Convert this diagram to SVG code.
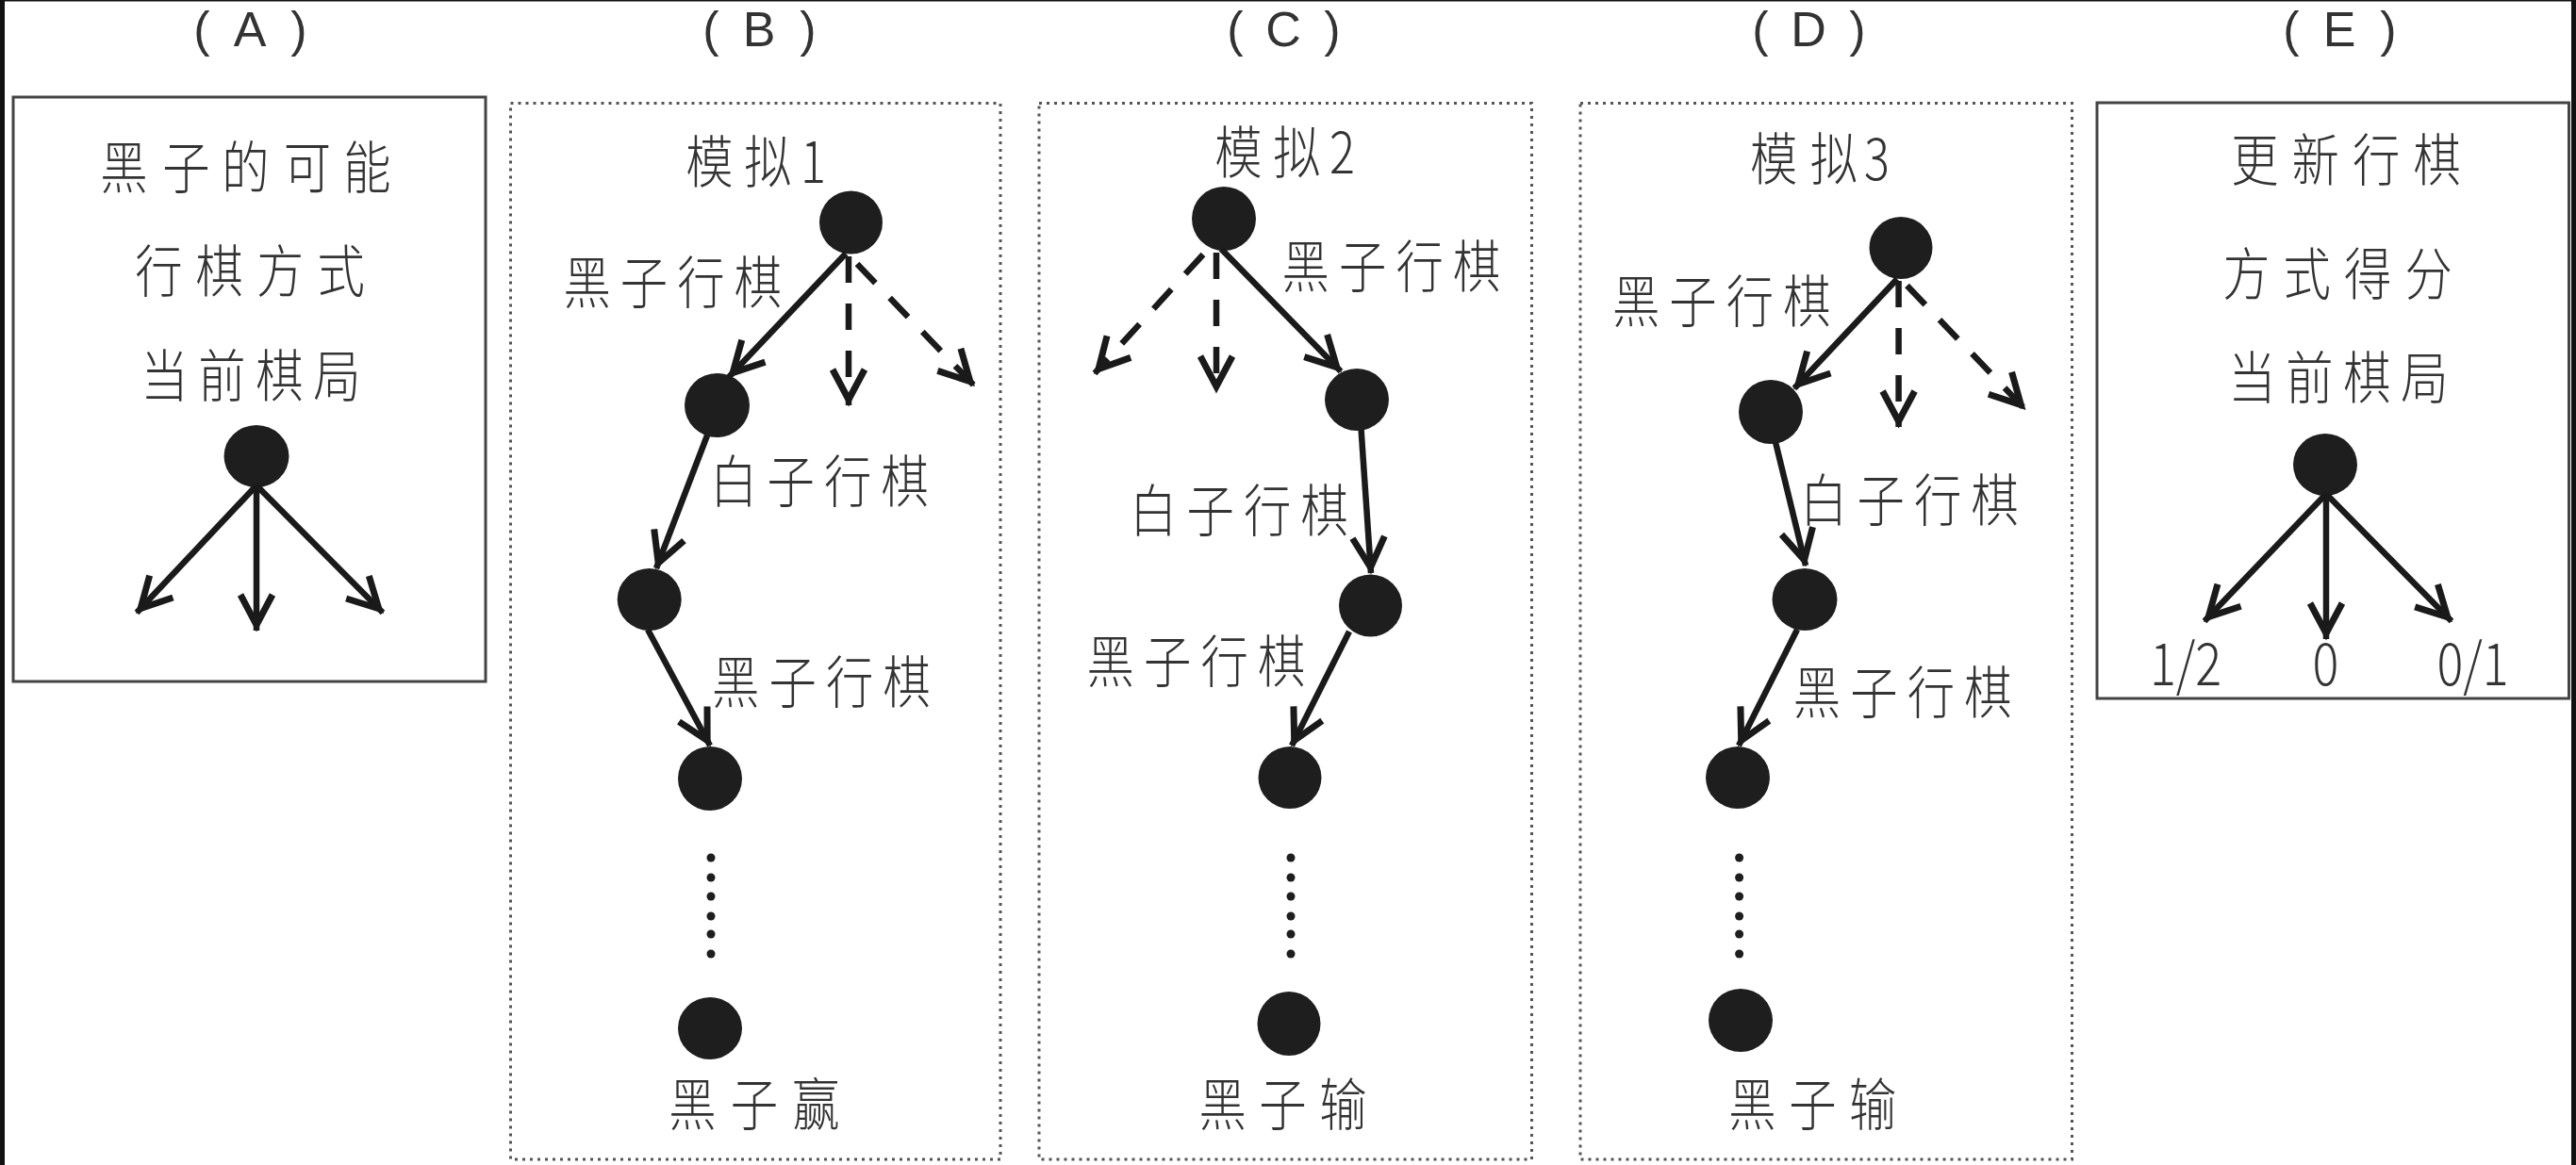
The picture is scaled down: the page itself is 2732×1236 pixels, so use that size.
<svg xmlns="http://www.w3.org/2000/svg" width="2732" height="1236" viewBox="0 0 2732 1236">
<style>
.lbl{font-family:"Noto Sans CJK SC","Noto Sans",sans-serif;font-size:60px;fill:#333;text-anchor:middle;font-weight:300}
.num{font-family:"Noto Sans CJK SC","Noto Sans",sans-serif;font-size:62px;fill:#333;text-anchor:middle;font-weight:300}
.ttl{font-family:"Liberation Sans",Arial,sans-serif;font-size:52px;fill:#333;text-anchor:middle}
.solid{fill:none;stroke:#1a1a1a;stroke-width:6.5;marker-end:url(#ah)}
.dash{fill:none;stroke:#1a1a1a;stroke-width:6.5;stroke-dasharray:28 22;marker-end:url(#ah)}
.node{fill:#1e1e1e}
.dot{fill:#1e1e1e}
.frame{fill:none;stroke:#444;stroke-width:3}
.dotted{fill:none;stroke:#555;stroke-width:3;stroke-dasharray:3 5}
</style>
<defs>
<marker id="ah" markerUnits="userSpaceOnUse" viewBox="-44 -22 50 44" refX="0" refY="0" markerWidth="50" markerHeight="44" orient="auto" overflow="visible">
<path d="M-38,-17 L-6,0 L-38,17" fill="none" stroke="#1a1a1a" stroke-width="7" stroke-dasharray="none" stroke-linejoin="miter"/>
</marker>
</defs>
<rect x="0" y="0" width="2732" height="1236" fill="#fff"/>
<rect x="0" y="0" width="5" height="1236" fill="#111"/>
<rect x="2727" y="0" width="5" height="1236" fill="#111"/>
<rect x="0" y="0" width="2732" height="1.5" fill="#111"/>

<g id="titles">
<text class="ttl" x="214 265 317" y="49">(A)</text>
<text class="ttl" x="754 805 857" y="49">(B)</text>
<text class="ttl" x="1310 1361 1413" y="49">(C)</text>
<text class="ttl" x="1867 1918 1970" y="49">(D)</text>
<text class="ttl" x="2430 2481 2533" y="49">(E)</text>
</g>

<g id="panelA">
<rect class="frame" x="14" y="103" width="501" height="620"/>
<text class="lbl" transform="translate(260.5,200) scale(0.84,1)" x="-153.6 -75 0 78 153.6" y="0">黑子的可能</text>
<text class="lbl" transform="translate(265,310) scale(0.84,1)" x="-115 -38.4 38.4 115" y="0">行棋方式</text>
<text class="lbl" transform="translate(266,421) scale(0.84,1)" x="-109 -36.3 36.3 109" y="0">当前棋局</text>
</g>
<g id="nodeA"><ellipse class="node" cx="272" cy="484" rx="34.5" ry="33"/></g>

<g id="panelB">
<rect class="dotted" x="541.5" y="109.5" width="519.5" height="1120.5"/>
<text class="lbl" transform="translate(814.5,194) scale(0.84,1)" x="-74 0 57" y="0">模拟1</text>
<text class="lbl" transform="translate(713.3,322) scale(0.84,1)" x="-108 -36 36 108" y="0">黑子行棋</text>
<text class="lbl" transform="translate(869,533) scale(0.84,1)" x="-108 -36 36 108" y="0">白子行棋</text>
<text class="lbl" transform="translate(871,746) scale(0.84,1)" x="-108 -36 36 108" y="0">黑子行棋</text>
<text class="lbl" transform="translate(800,1194) scale(0.84,1)" x="-78 0 78" y="0">黑子赢</text>
</g>
<g id="nodeB0"><ellipse class="node" cx="902.5" cy="236" rx="33.5" ry="33.5"/></g>
<g id="nodeB1"><ellipse class="node" cx="760.5" cy="430" rx="34.5" ry="34"/></g>
<g id="nodeB2"><ellipse class="node" cx="688.7" cy="636" rx="34" ry="33"/></g>
<g id="nodeB3"><ellipse class="node" cx="753" cy="826" rx="34" ry="34"/></g>
<g id="nodeB4"><ellipse class="node" cx="753" cy="1091" rx="34" ry="33"/></g>

<g id="panelC">
<rect class="dotted" x="1102" y="109.5" width="522.5" height="1120.5"/>
<text class="lbl" transform="translate(1375.5,184) scale(0.84,1)" x="-74 0 57" y="0">模拟2</text>
<text class="lbl" transform="translate(1475.5,305) scale(0.84,1)" x="-108 -36 36 108" y="0">黑子行棋</text>
<text class="lbl" transform="translate(1314,563.5) scale(0.84,1)" x="-108 -36 36 108" y="0">白子行棋</text>
<text class="lbl" transform="translate(1268.5,724) scale(0.84,1)" x="-108 -36 36 108" y="0">黑子行棋</text>
<text class="lbl" transform="translate(1360.5,1194) scale(0.84,1)" x="-76 0 76" y="0">黑子输</text>
</g>
<g id="nodeC0"><ellipse class="node" cx="1298" cy="232" rx="34" ry="34"/></g>
<g id="nodeC1"><ellipse class="node" cx="1439" cy="424" rx="34" ry="33"/></g>
<g id="nodeC2"><ellipse class="node" cx="1453.5" cy="642.5" rx="33.5" ry="33"/></g>
<g id="nodeC3"><ellipse class="node" cx="1368" cy="825" rx="33.5" ry="33"/></g>
<g id="nodeC4"><ellipse class="node" cx="1367" cy="1086" rx="33.5" ry="34"/></g>

<g id="panelD">
<rect class="dotted" x="1676" y="109.5" width="521.5" height="1120.5"/>
<text class="lbl" transform="translate(1945,191) scale(0.84,1)" x="-76 0 54" y="0">模拟3</text>
<text class="lbl" transform="translate(1825.8,342) scale(0.84,1)" x="-108 -36 36 108" y="0">黑子行棋</text>
<text class="lbl" transform="translate(2025,553) scale(0.84,1)" x="-108 -36 36 108" y="0">白子行棋</text>
<text class="lbl" transform="translate(2017.7,756.5) scale(0.84,1)" x="-108 -36 36 108" y="0">黑子行棋</text>
<text class="lbl" transform="translate(1922.4,1194) scale(0.84,1)" x="-76 0 76" y="0">黑子输</text>
</g>
<g id="nodeD0"><ellipse class="node" cx="2016" cy="263" rx="33.5" ry="33"/></g>
<g id="nodeD1"><ellipse class="node" cx="1878" cy="437" rx="34" ry="34"/></g>
<g id="nodeD2"><ellipse class="node" cx="1914" cy="636" rx="34.5" ry="33"/></g>
<g id="nodeD3"><ellipse class="node" cx="1843" cy="825" rx="34" ry="33"/></g>
<g id="nodeD4"><ellipse class="node" cx="1846" cy="1082.5" rx="34" ry="33.5"/></g>

<g id="panelE">
<rect class="frame" x="2224" y="109" width="500.5" height="632"/>
<text class="lbl" transform="translate(2488,192) scale(0.84,1)" x="-115 -38.4 38.4 115" y="0">更新行棋</text>
<text class="lbl" transform="translate(2479,313) scale(0.84,1)" x="-115 -38.4 38.4 115" y="0">方式得分</text>
<text class="lbl" transform="translate(2480,423) scale(0.84,1)" x="-109 -36.3 36.3 109" y="0">当前棋局</text>
<text class="num" transform="translate(2318,727) scale(0.84,1)" x="0" y="0">1/2</text>
<text class="num" transform="translate(2466.5,727) scale(0.84,1)" x="0" y="0">0</text>
<text class="num" transform="translate(2622.5,727) scale(0.84,1)" x="0" y="0">0/1</text>
</g>
<g id="nodeE"><ellipse class="node" cx="2466" cy="493" rx="34" ry="33"/></g>

<g id="ellipsis">
<circle class="dot" cx="754" cy="910" r="4.5"/><circle class="dot" cx="754" cy="931" r="4.5"/><circle class="dot" cx="754" cy="951" r="4.5"/><circle class="dot" cx="754" cy="972" r="4.5"/><circle class="dot" cx="754" cy="991" r="4.5"/><circle class="dot" cx="754" cy="1012" r="4.5"/>
<circle class="dot" cx="1369" cy="910" r="4.5"/><circle class="dot" cx="1369" cy="931" r="4.5"/><circle class="dot" cx="1369" cy="951" r="4.5"/><circle class="dot" cx="1369" cy="972" r="4.5"/><circle class="dot" cx="1369" cy="991" r="4.5"/><circle class="dot" cx="1369" cy="1012" r="4.5"/>
<circle class="dot" cx="1844.6" cy="910" r="4.5"/><circle class="dot" cx="1844.6" cy="931" r="4.5"/><circle class="dot" cx="1844.6" cy="951" r="4.5"/><circle class="dot" cx="1844.6" cy="972" r="4.5"/><circle class="dot" cx="1844.6" cy="991" r="4.5"/><circle class="dot" cx="1844.6" cy="1012" r="4.5"/>
</g>

<g id="connectors">
<line class="solid" x1="272" y1="515" x2="145" y2="650"/>
<line class="solid" x1="272" y1="515" x2="272" y2="669"/>
<line class="solid" x1="272" y1="515" x2="406" y2="650"/>
<line class="solid" x1="2467" y1="524" x2="2338" y2="659"/>
<line class="solid" x1="2467" y1="524" x2="2467" y2="678"/>
<line class="solid" x1="2467" y1="524" x2="2600" y2="659"/>

<line class="solid" x1="897" y1="269" x2="773" y2="400"/>
<line class="solid" x1="750" y1="462" x2="696" y2="603"/>
<line class="solid" x1="687" y1="668" x2="753" y2="791"/>
<line class="dash" x1="900" y1="272" x2="900" y2="430"/>
<line class="dash" x1="909" y1="280" x2="1033" y2="409"/>

<line class="solid" x1="1295" y1="264" x2="1422" y2="394"/>
<line class="solid" x1="1443.6" y1="456" x2="1454" y2="608"/>
<line class="solid" x1="1431" y1="670" x2="1370" y2="791"/>
<line class="dash" x1="1290" y1="268" x2="1290" y2="416"/>
<line class="dash" x1="1276" y1="270" x2="1161" y2="396"/>

<line class="solid" x1="2012" y1="296" x2="1903" y2="412"/>
<line class="solid" x1="1883" y1="469" x2="1915" y2="600"/>
<line class="solid" x1="1906" y1="668" x2="1844" y2="791"/>
<line class="dash" x1="2013.6" y1="298" x2="2013.6" y2="453"/>
<line class="dash" x1="2022.5" y1="303" x2="2147.5" y2="434"/>
</g>
</svg>
